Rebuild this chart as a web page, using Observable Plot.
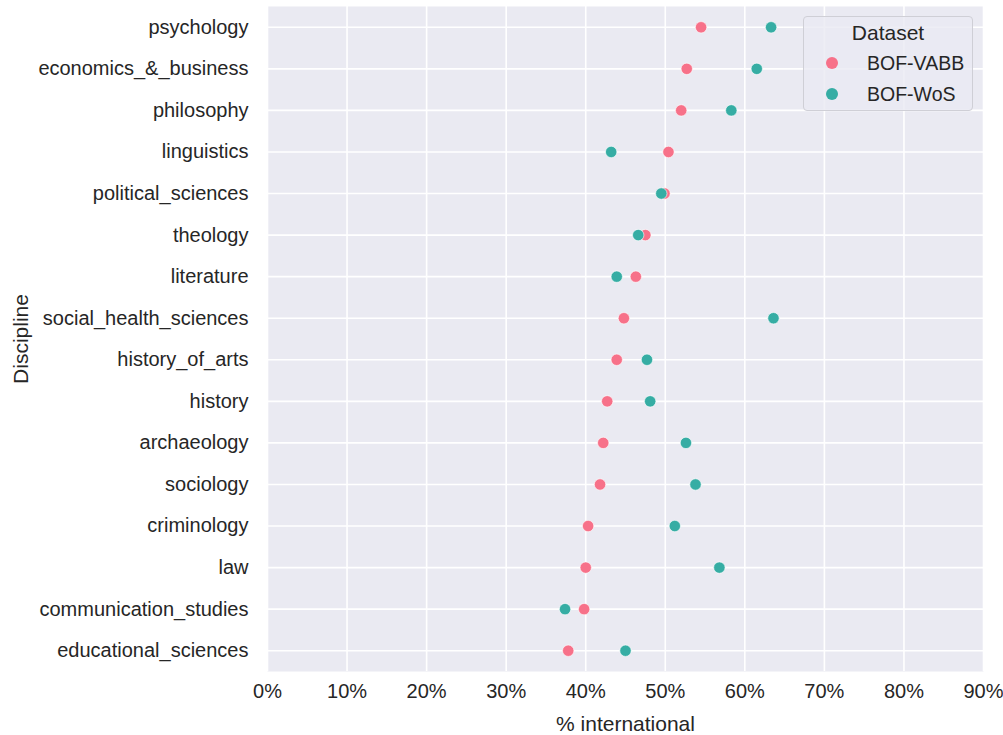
<!DOCTYPE html>
<html>
<head>
<meta charset="utf-8">
<script src="https://cdn.jsdelivr.net/npm/d3@7"></script>
<script src="https://cdn.jsdelivr.net/npm/@observablehq/plot@0.6"></script>
<style>
  body { margin: 0; background: white; font-family: "Liberation Sans", Arial, sans-serif; }
  #wrap { position: relative; width: 1003px; height: 735px; }
  #legend {
    position: absolute; left: 803px; top: 16px; width: 170px; height: 95px;
    border: 1px solid #cfcfd6; border-radius: 4px; background: rgba(234,234,242,0.8);
    box-sizing: border-box; color: #262626; font-size: 19.5px;
  }
  #legend .title { position: absolute; left: 0; right: 0; top: 4px; text-align: center; font-size: 21px; line-height: 24px; }
  #legend .item { position: absolute; left: 0; height: 22px; line-height: 22px; }
  #legend .dot { position: absolute; left: 22px; top: 5px; width: 12px; height: 12px; border-radius: 50%; }
  #legend .lab { position: absolute; left: 63px; top: 0; white-space: nowrap; }
</style>
</head>
<body>
<div id="wrap">
  <div id="chart"></div>
  <div id="legend"></div>
</div>
<script>
const disciplines = [
  "psychology", "economics_&_business", "philosophy", "linguistics",
  "political_sciences", "theology", "literature", "social_health_sciences",
  "history_of_arts", "history", "archaeology", "sociology",
  "criminology", "law", "communication_studies", "educational_sciences"
];
const datasets = ["BOF-VABB", "BOF-WoS"];
const vabbValues = [54.5, 52.7, 52.0, 50.4, 49.9, 47.5, 46.3, 44.8, 43.9, 42.7, 42.2, 41.8, 40.3, 40.0, 39.8, 37.8];
const wosValues  = [63.3, 61.5, 58.3, 43.2, 49.5, 46.6, 43.9, 63.6, 47.7, 48.1, 52.6, 53.8, 51.2, 56.8, 37.4, 45.0];
const xTicks = [0, 10, 20, 30, 40, 50, 60, 70, 80, 90];
const colors = ["#F77189", "#36ADA4"];

const data = disciplines.flatMap((d, i) => [
  {discipline: d, dataset: datasets[0], value: vabbValues[i]},
  {discipline: d, dataset: datasets[1], value: wosValues[i]}
]);

const chart = Plot.plot({
  width: 1003,
  height: 735,
  marginLeft: 267,
  marginRight: 20,
  marginTop: 6,
  marginBottom: 64,
  style: {fontFamily: "'Liberation Sans', Arial, sans-serif", fontSize: "20px", color: "#262626", background: "white"},
  x: {domain: [0, 90], label: null},
  y: {type: "point", domain: disciplines, padding: 0.5, round: false, label: null},
  color: {domain: datasets, range: colors},
  marks: [
    Plot.frame({fill: "#EAEAF2", stroke: null}),
    Plot.gridX(xTicks, {stroke: "white", strokeOpacity: 1, strokeWidth: 1.6}),
    Plot.gridY(disciplines, {stroke: "white", strokeOpacity: 1, strokeWidth: 1.6}),
    Plot.dot(data, {x: "value", y: "discipline", fill: "dataset", r: 5.7, stroke: "white", strokeWidth: 0.6}),
    Plot.axisX(xTicks, {tickSize: 0, tickPadding: 12, tickFormat: d => d + "%", label: null, fontSize: 20, fill: "#262626"}),
    Plot.axisY(disciplines, {tickSize: 0, tickPadding: 19, label: null, fontSize: 20, fill: "#262626"}),
    Plot.text(["% international"], {frameAnchor: "bottom", dy: 53, lineAnchor: "middle", textAnchor: "middle", fontSize: 21, fill: "#262626"}),
    Plot.text(["Discipline"], {frameAnchor: "left", dx: -246, rotate: -90, textAnchor: "middle", lineAnchor: "middle", fontSize: 21, fill: "#262626"})
  ]
});
document.getElementById("chart").appendChild(chart);

const legend = document.getElementById("legend");
const title = document.createElement("div");
title.className = "title";
title.textContent = "Dataset";
legend.appendChild(title);
datasets.forEach((name, i) => {
  const item = document.createElement("div");
  item.className = "item";
  item.style.top = (35 + i * 31) + "px";
  const dot = document.createElement("div");
  dot.className = "dot";
  dot.style.background = colors[i];
  const lab = document.createElement("div");
  lab.className = "lab";
  lab.textContent = name;
  item.appendChild(dot);
  item.appendChild(lab);
  legend.appendChild(item);
});
</script>
</body>
</html>
